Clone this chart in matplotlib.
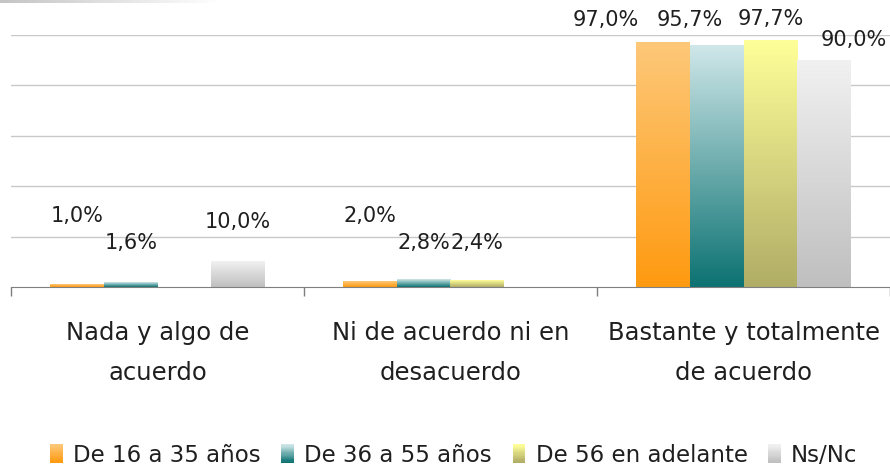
import numpy as np
import matplotlib.pyplot as plt
from matplotlib.colors import to_rgb
from matplotlib.patches import Rectangle
from matplotlib.legend_handler import HandlerBase

# Data
categories = ['Nada y algo de\nacuerdo', 'Ni de acuerdo ni en\ndesacuerdo',
              'Bastante y totalmente\nde acuerdo']
series = ['De 16 a 35 años', 'De 36 a 55 años', 'De 56 en adelante', 'Ns/Nc']
age_16_35 = [1.0, 2.0, 97.0]
age_36_55 = [1.6, 2.8, 95.7]
age_56_plus = [np.nan, 2.4, 97.7]
ns_nc = [10.0, np.nan, 90.0]
values = [age_16_35, age_36_55, age_56_plus, ns_nc]

# gradient colours (top, bottom) per series
grad_top = ['#fdc879', '#cfe7e9', '#ffff99', '#f1f1f1']
grad_bottom = ['#ff9a10', '#0c7272', '#b0ad66', '#bfbfbf']

# data label placement (y in %, x shift in group units)
label_y = [[28.2, 28.2, 106], [17.5, 17.5, 106], [0, 17.5, 106.5], [25.8, 0, 98]]
label_dx = [[0, 0, -0.195], [0, 0, -0.092], [0, 0, 0], [0, 0, 0.102]]

plt.rcParams['font.family'] = ['DejaVu Sans']
text_color = '#1f1f1f'


def gradient(top, bottom, n=256):
    return np.linspace(to_rgb(top), to_rgb(bottom), n)[:, None, :]


fig = plt.figure(figsize=(8.9, 4.69), dpi=100)
ax = fig.add_axes([11 / 890, 182 / 469, 879 / 890, 252 / 469])

x = np.arange(len(categories))
w = 0.1826
for i, vals in enumerate(values):
    xs = x + (i - 1.5) * w
    bars = ax.bar(xs, np.nan_to_num(vals), w, color='none', zorder=3)
    for j, (b, v) in enumerate(zip(bars, vals)):
        if np.isnan(v):
            continue
        ax.imshow(gradient(grad_top[i], grad_bottom[i]),
                  extent=(b.get_x(), b.get_x() + b.get_width(), 0, b.get_height()),
                  aspect='auto', origin='upper', zorder=3)
        lbl = f'{v:.1f}'.replace('.', ',') + '%'
        ax.text(b.get_x() + b.get_width() / 2 + label_dx[i][j], label_y[i][j], lbl,
                ha='center', va='center', fontsize=15, color=text_color)

ax.set_xlim(-0.5, 2.5)
ax.set_ylim(0, 100)
ax.set_yticks([20, 40, 60, 80, 100])
ax.set_yticklabels([])
ax.tick_params(axis='y', length=0)
ax.yaxis.grid(True, color='#c8c8c8', linewidth=1)
ax.set_axisbelow(True)

ax.set_xticks(x)
ax.set_xticklabels(categories, fontsize=17.5, color=text_color, linespacing=1.85)
ax.set_xticks([-0.5, 0.5, 1.5, 2.5], minor=True)
ax.tick_params(axis='x', which='major', length=0, pad=24.5)
ax.tick_params(axis='x', which='minor', length=6.5, color='#7f7f7f', width=1)

for s in ['left', 'right', 'top']:
    ax.spines[s].set_visible(False)
ax.spines['bottom'].set_color('#7f7f7f')
ax.spines['bottom'].set_zorder(4)


class GradientHandler(HandlerBase):
    def create_artists(self, legend, orig_handle, xdescent, ydescent,
                       width, height, fontsize, trans):
        top = orig_handle.get_facecolor()
        bottom = orig_handle.get_edgecolor()
        n = 16
        h = height * 1.15
        y0 = -ydescent + (height - h) / 2
        arts = []
        for k in range(n):
            t = k / (n - 1)
            c = (1 - t) * np.array(bottom[:3]) + t * np.array(top[:3])
            r = Rectangle((-xdescent, y0 + k * h / n), width, h / n + 0.3,
                          facecolor=c, edgecolor='none', transform=trans)
            arts.append(r)
        return arts


handles = [Rectangle((0, 0), 1, 1, facecolor=t, edgecolor=b)
           for t, b in zip(grad_top, grad_bottom)]
fig.legend(handles, series, loc='center', bbox_to_anchor=(0.51, 1 - 455 / 469),
           ncol=4, frameon=False, fontsize=16.5, handlelength=0.55, handleheight=0.7,
           handletextpad=0.45, columnspacing=0.9, labelcolor=text_color,
           handler_map={Rectangle: GradientHandler()})

# decorative strip at top-left
strip = fig.add_axes([0, 1 - 3 / 469, 220 / 890, 3 / 469])
strip.imshow(np.linspace(to_rgb('#c4c4c4'), to_rgb('#ffffff'), 256)[None, :, :],
             aspect='auto')
strip.axis('off')

fig.savefig('out.png', dpi=100)
